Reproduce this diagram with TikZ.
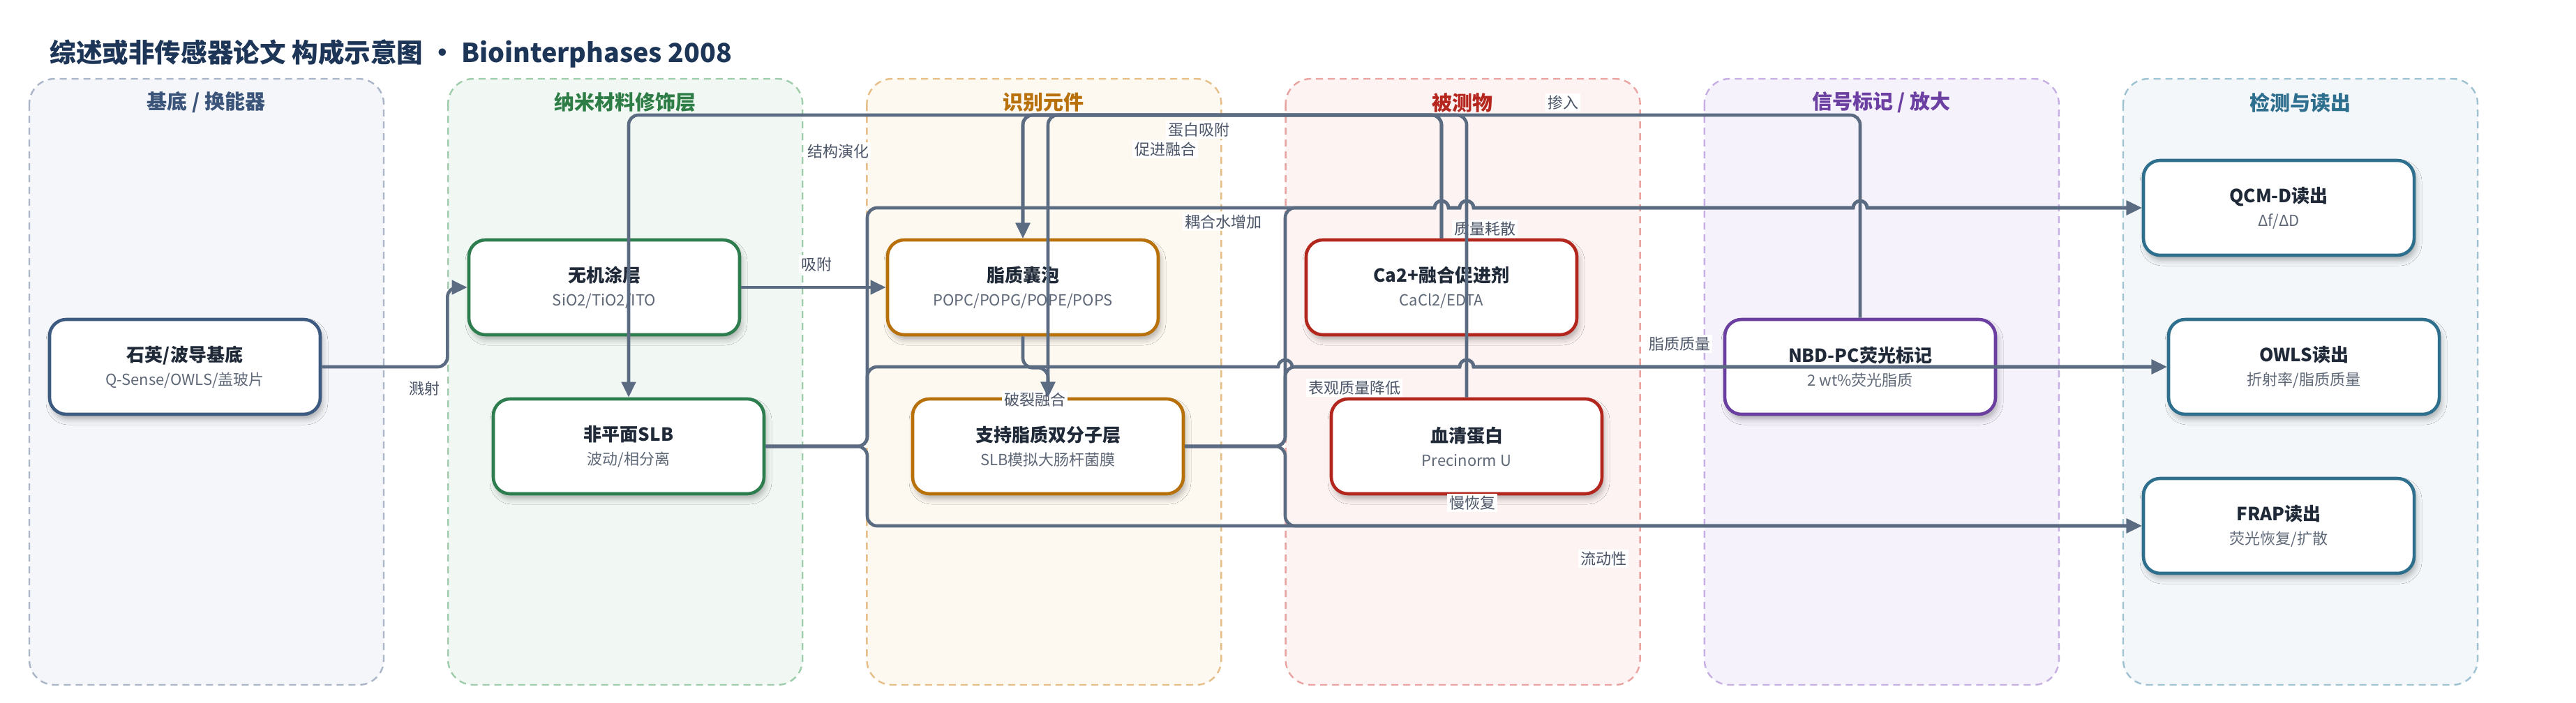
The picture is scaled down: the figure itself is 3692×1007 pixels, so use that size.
\documentclass[tikz,border=0pt]{standalone}
\usepackage{fontspec}
\setmainfont{Noto Sans CJK SC}
\usetikzlibrary{arrows.meta,shadows.blur}

\definecolor{wirec}{HTML}{5B6B82}
\definecolor{labc}{HTML}{4A5466}
\definecolor{titc}{HTML}{1F2937}
\definecolor{subc}{HTML}{5F6877}
\definecolor{titlec}{HTML}{1D3557}
\definecolor{lane1f}{HTML}{F4F6FA}\definecolor{lane1b}{HTML}{AAB6C8}\definecolor{lane1h}{HTML}{3B5479}
\definecolor{lane2f}{HTML}{F1F8F3}\definecolor{lane2b}{HTML}{9FCCAB}\definecolor{lane2h}{HTML}{2E7D46}
\definecolor{lane3f}{HTML}{FDF8F0}\definecolor{lane3b}{HTML}{E6BF88}\definecolor{lane3h}{HTML}{B8700A}
\definecolor{lane4f}{HTML}{FDF3F2}\definecolor{lane4b}{HTML}{E9A4A2}\definecolor{lane4h}{HTML}{B5261E}
\definecolor{lane5f}{HTML}{F6F2FB}\definecolor{lane5b}{HTML}{C6AFE2}\definecolor{lane5h}{HTML}{6C3FA2}
\definecolor{lane6f}{HTML}{F3F7F9}\definecolor{lane6b}{HTML}{9FC2D2}\definecolor{lane6h}{HTML}{2E6E8E}
\definecolor{cquartz}{HTML}{3D5A80}
\definecolor{cnano}{HTML}{2E7D4F}
\definecolor{crecog}{HTML}{B8700A}
\definecolor{cana}{HTML}{B3261E}
\definecolor{csig}{HTML}{6A3FA0}
\definecolor{cdet}{HTML}{2E6F8E}

\newcommand{\nodetext}[2]{{\fontsize{13}{15}\selectfont\bfseries\color{titc}#1}\\{\color{subc}#2}}

\begin{document}
\begin{tikzpicture}[x=0.5pt, y=-0.5pt, >={Triangle[length=11pt,width=10pt]},
    wire/.style={draw=wirec, line width=2.3pt, rounded corners=7pt},
    lane/.style 2 args={draw=#1, fill=#2, line width=1.2pt, dash pattern=on 5pt off 3.5pt, rounded corners=18pt},
    card/.style={draw=#1, line width=2.3pt, fill=white, rounded corners=12pt, minimum width=194pt, minimum height=68pt,
        align=center, inner sep=0pt, font=\fontsize{11}{17}\selectfont,
        blur shadow={shadow xshift=1.5pt, shadow yshift=-3.5pt, shadow blur radius=4pt, shadow opacity=30}},
    lbl/.style={fill=white, inner sep=1.5pt, text=labc, font=\fontsize{11}{13}\selectfont},
    hop/.style 2 args={insert path={-- (#1-10,#2) arc[start angle=180, end angle=360, radius=10]}}]

\useasboundingbox (0,0) rectangle (3692,1007);
\fill[white] (0,0) rectangle (3692,1007);

\node[anchor=west, inner sep=0pt, text=titlec, font=\fontsize{18.8}{23}\selectfont\bfseries] (title) at (71,77)
    {综述或非传感器论文 构成示意图 • Biointerphases 2008};

% lanes
\foreach \i/\bc/\fc/\hc/\head in {0/lane1b/lane1f/lane1h/{基底 / 换能器}, 1/lane2b/lane2f/lane2h/纳米材料修饰层,
        2/lane3b/lane3f/lane3h/识别元件, 3/lane4b/lane4f/lane4h/被测物,
        4/lane5b/lane5f/lane5h/{信号标记 / 放大}, 5/lane6b/lane6f/lane6h/检测与读出}{
    \draw[lane={\bc}{\fc}] (42+600.2*\i,113) rectangle ++(508,869);
    \node[text=\hc, font=\fontsize{14.5}{17}\selectfont\bfseries] (head\i) at (295.5+600.2*\i,147) {\head};
}

\node[card=cquartz] (quartz) at (265,526) {\nodetext{石英/波导基底}{Q-Sense/OWLS/盖玻片}};
\node[card=cnano] (coat) at (866,412) {\nodetext{无机涂层}{SiO2/TiO2/ITO}};
\node[card=cnano] (nslb) at (901,640) {\nodetext{非平面SLB}{波动/相分离}};
\node[card=crecog] (ves) at (1466,412) {\nodetext{脂质囊泡}{POPC/POPG/POPE/POPS}};
\node[card=crecog] (slb) at (1502,640) {\nodetext{支持脂质双分子层}{SLB模拟大肠杆菌膜}};
\node[card=cana] (ca) at (2066,412) {\nodetext{Ca2+融合促进剂}{CaCl2/EDTA}};
\node[card=cana] (serum) at (2102,640) {\nodetext{血清蛋白}{Precinorm U}};
\node[card=csig] (nbd) at (2666,526) {\nodetext{NBD-PC荧光标记}{2 wt\%荧光脂质}};
\node[card=cdet] (qcm) at (3266,298) {\nodetext{QCM-D读出}{Δf/ΔD}};
\node[card=cdet] (owls) at (3302,526) {\nodetext{OWLS读出}{折射率/脂质质量}};
\node[card=cdet] (frap) at (3266,754) {\nodetext{FRAP读出}{荧光恢复/扩散}};

% edge labels
\node[lbl] (lsput) at (608,557) {溅射};
\node[lbl] (ladsorb) at (1170,379) {吸附};
\node[lbl] (levol) at (1201,217) {结构演化};
\node[lbl] (lprot) at (1718,186) {蛋白吸附};
\node[lbl] (lfuse) at (1670,214) {促进融合};
\node[lbl] (ldope) at (2240,147) {掺入};
\node[lbl] (lrupt) at (1483,573) {破裂融合};
\node[lbl] (lwater) at (1753,318) {耦合水增加};
\node[lbl] (ldiss) at (2128,328) {质量耗散};
\node[lbl] (lapp) at (1941,556) {表观质量降低};
\node[lbl] (lslow) at (2110,721) {慢恢复};
\node[lbl] (lfluid) at (2298,801) {流动性};
\node[lbl] (lmass) at (2407,493) {脂质质量};

\coordinate (topy) at (0,165);
\coordinate (busA) at (1243,0);
\coordinate (busB) at (1842,0);

\draw[wire,->] (quartz.east) -- ++(180,0) |- (coat.west);
\draw[wire,->] (coat.east) -- (ves.west);
\draw[wire,->] (ca.north) |- (topy -| nslb.north) -- (nslb.north);
\draw[wire,->] (ca.north) |- (topy -| ves.north) -- (ves.north);
\draw[wire,->] (nbd.north) |- (topy -| ves.north) -- (ves.north);
\draw[wire,->] (serum.north) |- (topy -| slb.north) -- (slb.north);
\draw[wire,->] (ves.south) -- ++(0,45) -| (slb.north);

\draw[wire,->] (nslb.east) -| (busA |- qcm.west) -- ++(300,0)
    [sharp corners, hop={2066}{298}, hop={2102}{298}, hop={2666}{298}] -- (qcm.west);
\draw[wire,->] (slb.east) -| (busB |- qcm.west) -- ++(100,0)
    [sharp corners, hop={2066}{298}, hop={2102}{298}, hop={2666}{298}] -- (qcm.west);
\draw[wire,->] (nslb.east) -| (busA |- owls.west) -- ++(300,0)
    [sharp corners, hop={1842}{526}, hop={2102}{526}] -- (owls.west);
\draw[wire,->] (slb.east) -| (busB |- owls.west) -- ++(100,0)
    [sharp corners, hop={2102}{526}] -- (owls.west);
\draw[wire,->] (nslb.east) -| (busA |- frap.west) -- (frap.west);
\draw[wire,->] (slb.east) -| (busB |- frap.west) -- (frap.west);
\end{tikzpicture}
\end{document}
